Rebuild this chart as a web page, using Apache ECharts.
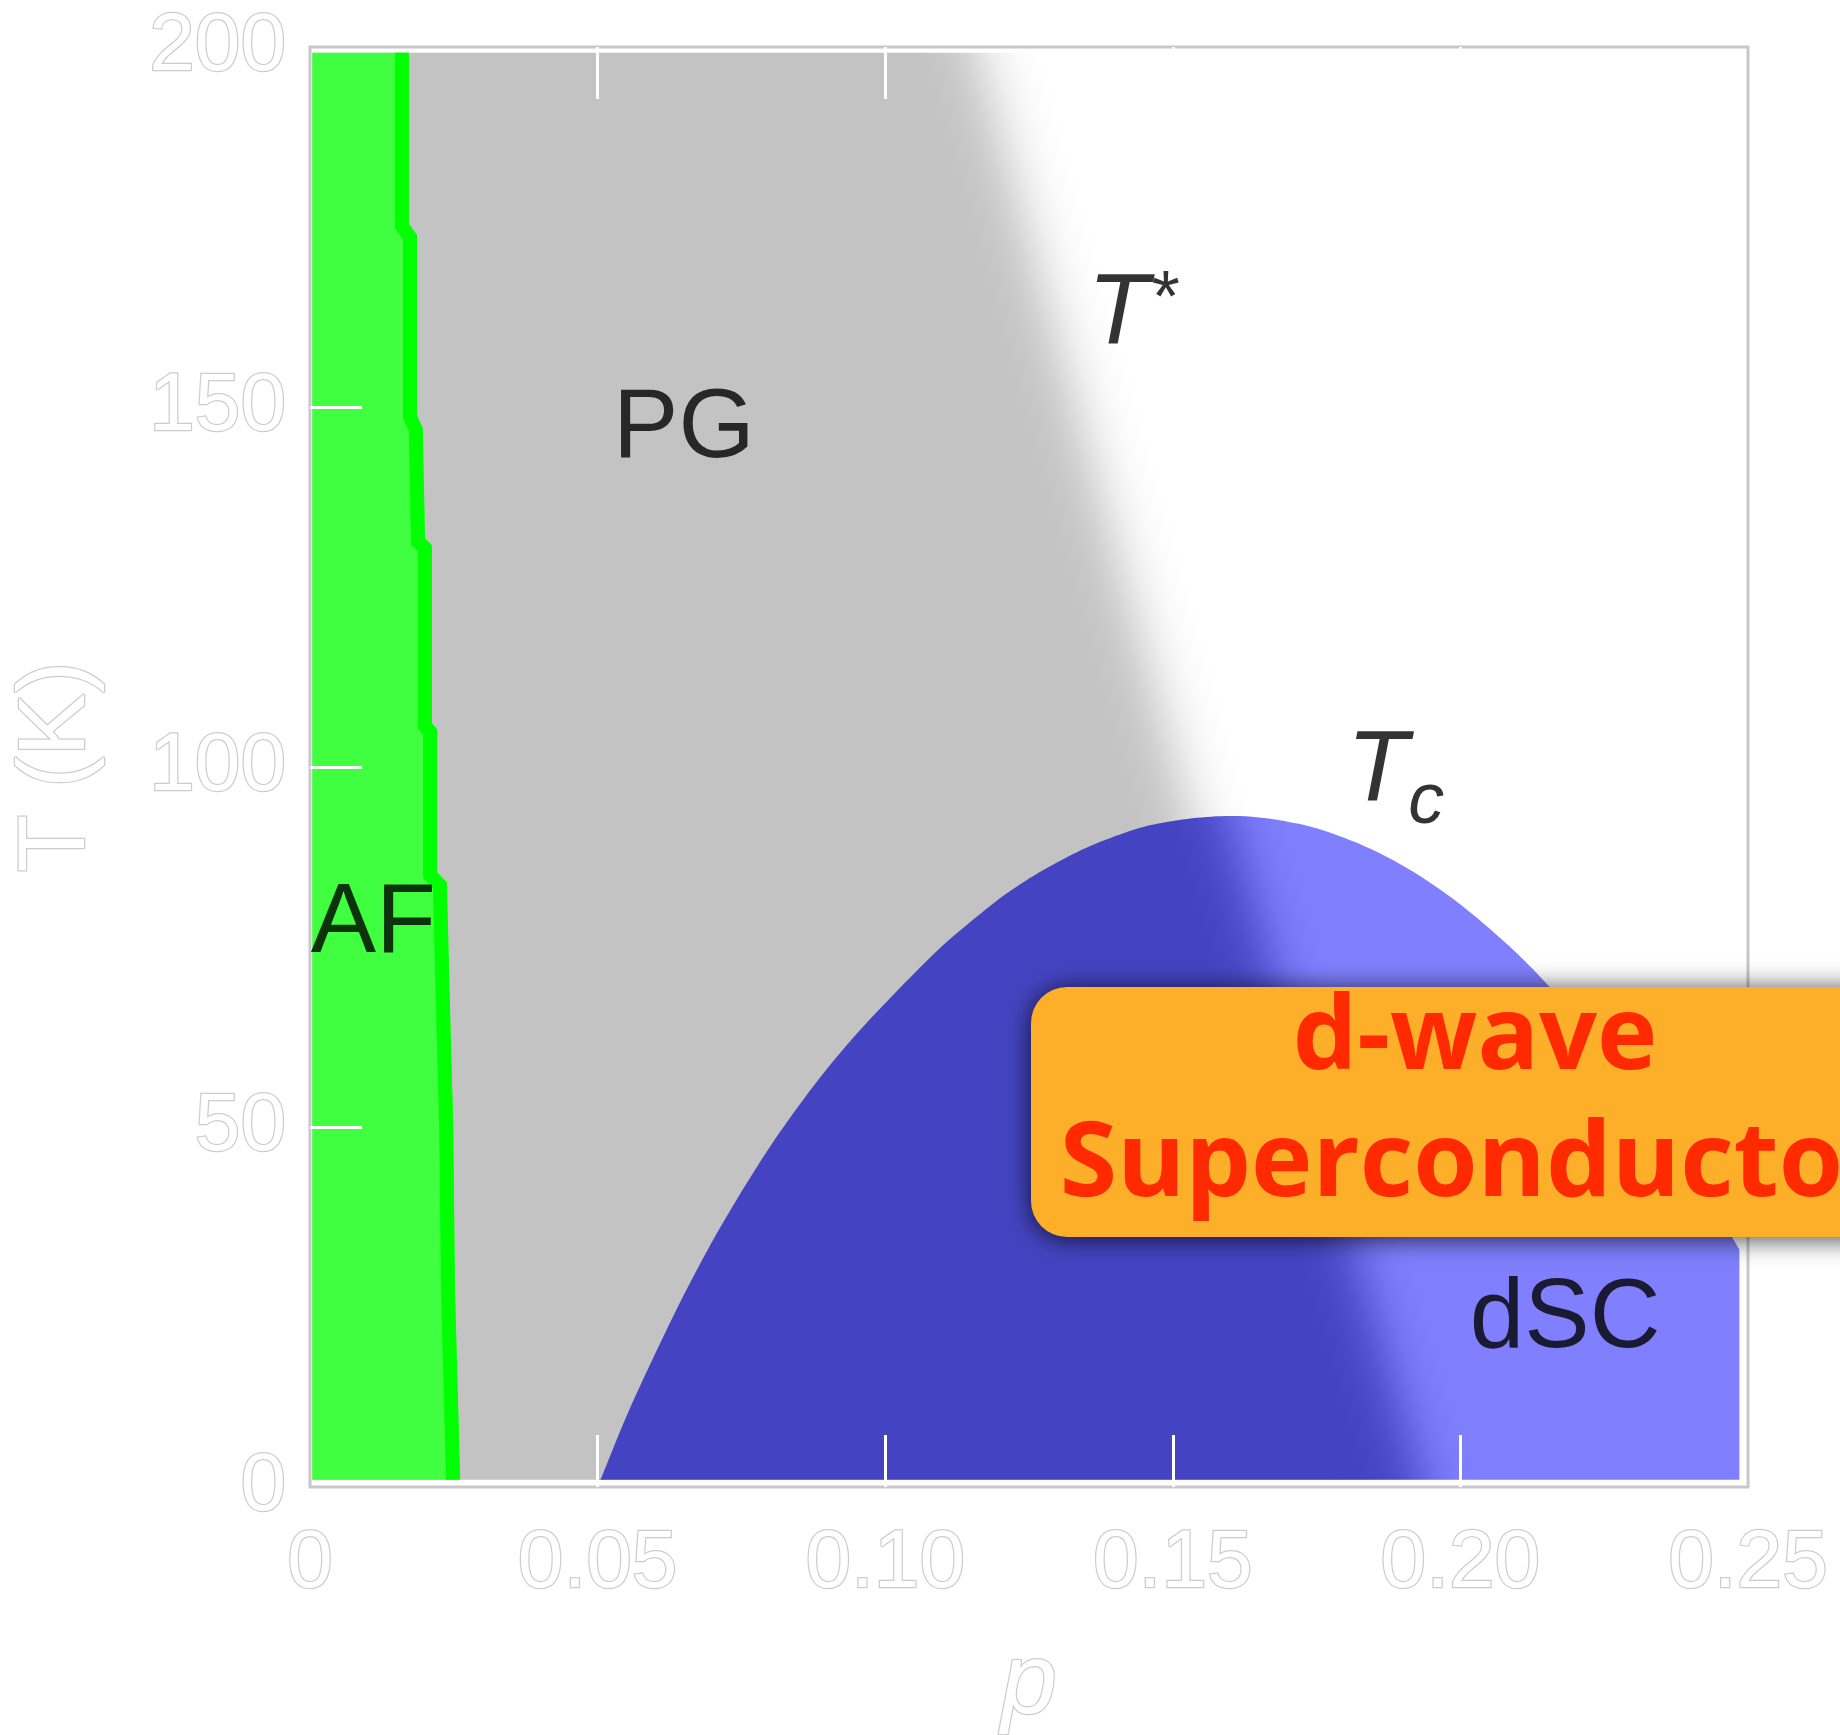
<!DOCTYPE html>
<html>
<head>
<meta charset="utf-8">
<script src="https://cdn.jsdelivr.net/npm/echarts@6/dist/echarts.min.js"></script>
<style>
html,body{margin:0;padding:0;background:#ffffff;overflow:hidden}
#c{width:1840px;height:1735px}
</style>
</head>
<body>
<div id="c"></div>
<script>
// ---------- data ----------
// axis ticks
const xTickValues = [0, 0.05, 0.10, 0.15, 0.20, 0.25];
const xTickLabels = ['0', '0.05', '0.10', '0.15', '0.20', '0.25'];
const yTickValues = [0, 50, 100, 150, 200];
const yTickLabels = ['0', '50', '100', '150', '200'];

// extent of the coloured plot area (p, T)
const plotP = [0.0004, 0.2485];
const plotT = [1.0, 199.2];

// AF (antiferromagnet) right boundary, top to bottom
const afBoundaryP = [0.0172, 0.0172, 0.0186, 0.0186, 0.0196, 0.0200, 0.0212, 0.0212, 0.0221, 0.0221, 0.0238, 0.0243, 0.0249, 0.0252, 0.0261];
const afBoundaryT = [199.2, 175.1, 173.6, 148.6, 146.9, 131.3, 130.4, 105.7, 104.9, 85.0, 83.6, 67.6, 50.0, 27.4, 1.0];

// T* crossover line (pseudogap -> normal)
const tStarP = [0.1160, 0.1857];
const tStarT = [200, 0];

// crossover line inside the superconducting dome
const scCrossP = [0.1626, 0.1935];
const scCrossT = [85, 0];

// Tc dome
const domeP = [0.050, 0.055, 0.060, 0.065, 0.070, 0.075, 0.080, 0.085, 0.090, 0.095, 0.100, 0.105, 0.110, 0.115, 0.120, 0.125, 0.130, 0.135, 0.140, 0.145, 0.150, 0.155, 0.160,
               0.165, 0.170, 0.175, 0.180, 0.185, 0.190, 0.195, 0.200, 0.205, 0.210, 0.215, 0.220, 0.225, 0.230, 0.235, 0.240, 0.245, 0.2485];
const domeT = [0, 9.8, 18.5, 26.7, 34.2, 41.0, 47.3, 53.0, 58.2, 62.9, 67.2, 71.3, 75.2, 78.6, 81.8, 84.5, 86.8, 88.8, 90.4, 91.7, 92.5, 93.0, 93.2,
               93.0, 92.4, 91.5, 90.1, 88.4, 86.3, 83.8, 80.9, 77.6, 74.0, 69.9, 65.5, 60.7, 55.5, 49.9, 43.9, 37.6, 33.0];

// region labels (centres)
const regionLabels = ['AF', 'PG', 'dSC'];
const regionLabelP = [0.0110, 0.0650, 0.2182];
const regionLabelT = [78.1, 146.8, 23.2];

// line labels (left edges)
const lineLabels = ['T*', 'Tc'];
const lineLabelP = [0.1352, 0.1803];
const lineLabelT = [162.8, 99.3];

// annotation box
const boxLines = ['d-wave', 'Superconductor'];

// ---------- styles ----------
const GRAY = '#c3c3c3';
const WHITE = '#ffffff';
const GREEN = '#40ff40';
const GREEN_EDGE = '#00ff00';
const DARK_BLUE = '#4444c2';
const LIGHT_BLUE = '#8080ff';
const OUTLINE = '#cdcdcd';

function hex(c){ return [parseInt(c.slice(1,3),16), parseInt(c.slice(3,5),16), parseInt(c.slice(5,7),16)]; }
function mix(c1, c2, w){
  const a = hex(c1), b = hex(c2);
  return 'rgb(' + a.map((v,i)=>Math.round(v + (b[i]-v)*w)).join(',') + ')';
}
const edgeProfile = [0, 0.03, 0.08, 0.17, 0.32, 0.5, 0.68, 0.83, 0.92, 0.97, 1];
function blurStops(c1, c2){
  return edgeProfile.map((w,i)=>({offset: i/(edgeProfile.length-1), color: mix(c1, c2, w)}));
}
function crossGradient(api, P, T, width, c1, c2){
  const a = api.coord([P[0], T[0]]), b = api.coord([P[1], T[1]]);
  const dx = b[0]-a[0], dy = b[1]-a[1], len = Math.hypot(dx, dy);
  let nx = dy/len, ny = -dx/len;
  if (nx < 0){ nx = -nx; ny = -ny; }
  const mx = (a[0]+b[0])/2, my = (a[1]+b[1])/2;
  return new echarts.graphic.LinearGradient(
    mx - nx*width/2, my - ny*width/2, mx + nx*width/2, my + ny*width/2,
    blurStops(c1, c2), true);
}
// Catmull-Rom smoothing of a pixel polyline (drawing only)
function smoothPath(pts, steps){
  const out = [];
  for (let i = 0; i < pts.length-1; i++){
    const p0 = pts[Math.max(i-1,0)], p1 = pts[i], p2 = pts[i+1], p3 = pts[Math.min(i+2, pts.length-1)];
    for (let s = 0; s < steps; s++){
      const t = s/steps, t2 = t*t, t3 = t2*t;
      out.push([0,1].map(k => 0.5*((2*p1[k]) + (-p0[k]+p2[k])*t + (2*p0[k]-5*p1[k]+4*p2[k]-p3[k])*t2 + (-p0[k]+3*p1[k]-3*p2[k]+p3[k])*t3)));
    }
  }
  out.push(pts[pts.length-1]);
  return out;
}

function renderRegions(params, api){
  const tl = api.coord([plotP[0], plotT[1]]);
  const br = api.coord([plotP[1], plotT[0]]);
  const yTop = tl[1], yBot = br[1];
  const clampY = pt => [pt[0], Math.min(Math.max(pt[1], yTop), yBot)];

  const bg = {
    type: 'rect',
    shape: {x: tl[0], y: tl[1], width: br[0]-tl[0], height: br[1]-tl[1]},
    style: {fill: crossGradient(api, tStarP, tStarT, 120, GRAY, WHITE)}
  };

  const afPts = afBoundaryP.map((p,i)=>clampY(api.coord([p, afBoundaryT[i]])));
  const af = {
    type: 'polygon',
    shape: {points: [[tl[0], yTop]].concat(afPts, [[tl[0], yBot]])},
    style: {fill: GREEN}
  };
  const afEdge = {
    type: 'polyline',
    shape: {points: afPts.map(pt => [pt[0]-7, pt[1]])},
    style: {stroke: GREEN_EDGE, lineWidth: 14, fill: null}
  };

  const rawDome = domeP.map((p,i)=>api.coord([p, domeT[i]]));
  const dPts = smoothPath(rawDome, 6).map(clampY);
  const last = dPts[dPts.length-1];
  dPts.push([last[0], yBot]);
  const dome = {
    type: 'polygon',
    shape: {points: dPts},
    style: {fill: crossGradient(api, scCrossP, scCrossT, 115, DARK_BLUE, LIGHT_BLUE)}
  };

  return {type: 'group', children: [bg, af, afEdge, dome]};
}

const axisLabelStyle = {
  color: '#ffffff',
  textBorderColor: OUTLINE,
  textBorderWidth: 2.5,
  fontFamily: 'Liberation Sans',
  fontSize: 82
};

const chart = echarts.init(document.getElementById('c'), null, {renderer: 'canvas', width: 1840, height: 1735});

const option = {
  animation: false,
  backgroundColor: '#ffffff',
  grid: {
    left: 310, right: 92, top: 47, bottom: 248,
    containLabel: false,
    outerBoundsMode: 'none',
    show: true,
    borderColor: '#c8c8c8',
    borderWidth: 3,
    backgroundColor: 'transparent'
  },
  xAxis: [{
    type: 'value', min: 0, max: 0.25, interval: 0.05, position: 'bottom', z: 10,
    axisLine: {show: false},
    splitLine: {show: false},
    axisTick: {show: true, inside: true, length: 52, customValues: xTickValues.slice(1, -1), lineStyle: {color: '#ffffff', width: 3}},
    axisLabel: Object.assign({margin: 36, formatter: v => xTickLabels[Math.round(v/0.05)]}, axisLabelStyle),
    name: 'p',
    nameLocation: 'middle',
    nameGap: 148,
    nameTextStyle: {color: '#ffffff', textBorderColor: OUTLINE, textBorderWidth: 2.5, fontFamily: 'Liberation Sans', fontStyle: 'italic', fontSize: 100}
  }, {
    type: 'value', min: 0, max: 0.25, interval: 0.05, position: 'top', z: 10,
    axisLine: {show: false},
    splitLine: {show: false},
    axisLabel: {show: false},
    axisTick: {show: true, inside: true, length: 52, customValues: xTickValues.slice(1, -1), lineStyle: {color: '#ffffff', width: 3}}
  }],
  yAxis: [{
    type: 'value', min: 0, max: 200, interval: 50, position: 'left', z: 10,
    axisLine: {show: false},
    splitLine: {show: false},
    axisTick: {show: true, inside: true, length: 52, customValues: yTickValues.slice(1, -1), lineStyle: {color: '#ffffff', width: 3}},
    axisLabel: Object.assign({margin: 24, formatter: v => yTickLabels[Math.round(v/50)]}, axisLabelStyle),
    name: 'T (K)',
    nameLocation: 'middle',
    nameGap: 205,
    nameTextStyle: {color: '#ffffff', textBorderColor: OUTLINE, textBorderWidth: 2.5, fontFamily: 'Liberation Sans', fontSize: 95}
  }],
  series: [{
    type: 'custom',
    coordinateSystem: 'cartesian2d',
    silent: true,
    z: 1,
    data: [[0, 0]],
    encode: {x: 0, y: 1},
    renderItem: renderRegions
  }, {
    type: 'scatter',
    silent: true,
    z: 5,
    symbolSize: 0,
    data: regionLabels.map((n,i)=>({name: n, value: [regionLabelP[i], regionLabelT[i]]})),
    label: {show: true, position: 'inside', formatter: p => p.name, color: '#000000', fontFamily: 'Liberation Sans', fontSize: 98}
  }, {
    type: 'scatter',
    silent: true,
    z: 5,
    symbolSize: 0,
    data: lineLabels.map((n,i)=>({name: n, value: [lineLabelP[i], lineLabelT[i]]})),
    label: {
      show: true, position: 'right', distance: 0,
      formatter: p => '{t|' + p.name[0] + '}' + (p.name[1] === '*' ? '{sup|*}' : '{sub|' + p.name.slice(1) + '}'),
      rich: {
        t: {fontFamily: 'Liberation Sans', fontStyle: 'italic', fontSize: 100, color: '#000000'},
        sup: {fontFamily: 'Liberation Sans', fontStyle: 'italic', fontSize: 72, color: '#000000', verticalAlign: 'top'},
        sub: {fontFamily: 'Liberation Sans', fontStyle: 'italic', fontSize: 72, color: '#000000', padding: [62, 0, 0, 0]}
      }
    }
  }],
  graphic: [{
    type: 'rect', z: 100,
    shape: {x: 1031, y: 987, width: 920, height: 250, r: 36},
    style: {fill: '#fdaf2a', shadowBlur: 26, shadowColor: 'rgba(0,0,0,0.75)', shadowOffsetY: 2}
  }, {
    type: 'text', z: 101, x: 1475, y: 1040,
    style: {text: boxLines[0], fill: '#ff2a00', font: '700 102px "Open Sans"', align: 'center', verticalAlign: 'middle'}
  }, {
    type: 'text', z: 101, x: 1475, y: 1166,
    style: {text: boxLines[1], fill: '#ff2a00', font: '700 104px "Open Sans"', align: 'center', verticalAlign: 'middle'}
  }]
};

chart.setOption(option);
</script>
</body>
</html>
